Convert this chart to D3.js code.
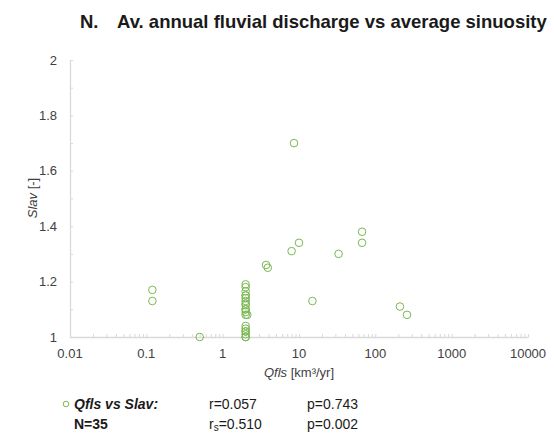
<!DOCTYPE html>
<html>
<head>
<meta charset="utf-8">
<script src="https://cdn.jsdelivr.net/npm/d3@7"></script>
<style>
  html, body { margin: 0; padding: 0; background: #fff; }
  svg { display: block; font-family: "Liberation Sans", Arial, sans-serif; }
</style>
</head>
<body>
<svg id="chart" width="554" height="435"></svg>
<script>
// Average annual fluvial discharge (km³/yr) against average sinuosity
const discharge = [8.6, 10, 8, 3.7, 3.9, 33, 67, 67, 15, 210, 260, 0.12, 0.12, 0.5,
  2, 2, 2, 2, 2, 2, 2, 2, 2, 2, 2.1, 2, 2, 2, 2, 2, 2, 2, 2, 2, 2];
const sinuosity = [1.70, 1.34, 1.31, 1.26, 1.25, 1.30, 1.38, 1.34, 1.13, 1.11, 1.08, 1.17, 1.13, 1.00,
  1.19, 1.18, 1.165, 1.15, 1.15, 1.14, 1.13, 1.12, 1.115, 1.10, 1.08, 1.08, 1.09, 1.10,
  1.04, 1.03, 1.02, 1.02, 1.01, 1.00, 1.00];
const xTickValues = [0.01, 0.1, 1, 10, 100, 1000, 10000];
const xTickLabels = ["0.01", "0.1", "1", "10", "100", "1000", "10000"];
const yTickValues = [1, 1.2, 1.4, 1.6, 1.8, 2];
const yTickLabels = ["1", "1.2", "1.4", "1.6", "1.8", "2"];
const stats = { r: "0.057", p1: "0.743", rs: "0.510", p2: "0.002", n: 35 };

const svg = d3.select("#chart");
const green = "#7ab852";
const axisGrey = "#d9d9d9";
const labelGrey = "#404040";

const x = d3.scaleLog().domain([0.01, 10000]).range([70, 528]);
const y = d3.scaleLinear().domain([1, 2]).range([337, 60]);

// Title
svg.append("text").attr("x", 80).attr("y", 28)
  .attr("font-size", 18.5).attr("font-weight", "bold").attr("fill", "#1a1a1a").text("N.");
svg.append("text").attr("x", 117).attr("y", 28)
  .attr("font-size", 18.5).attr("font-weight", "bold").attr("fill", "#1a1a1a")
  .text("Av. annual fluvial discharge vs average sinuosity");

// X axis: log minor ticks drawn inward
const xMinor = [];
for (let e = -2; e < 4; e++) for (let m = 1; m <= 9; m++) xMinor.push(m * Math.pow(10, e));
xMinor.push(10000);
const xAxis = d3.axisBottom(x).tickValues(xMinor).tickSize(0).tickFormat("");
const gx = svg.append("g").attr("transform", `translate(0,${y(1)})`).call(xAxis);
gx.select(".domain").attr("stroke", axisGrey).attr("stroke-width", 1.3);
gx.selectAll(".tick line").attr("y2", -3).attr("stroke", axisGrey);

svg.append("g").selectAll("text").data(xTickValues).join("text")
  .attr("x", d => x(d)).attr("y", 358).attr("text-anchor", "middle")
  .attr("font-size", 13).attr("fill", labelGrey)
  .text((d, i) => xTickLabels[i]);

// Y axis: minor ticks every 0.1
const yMinor = d3.range(0, 11).map(i => 1 + i * 0.1);
const yAxis = d3.axisLeft(y).tickValues(yMinor).tickSize(0).tickFormat("");
const gy = svg.append("g").attr("transform", `translate(${x(0.01)},0)`).call(yAxis);
gy.select(".domain").attr("stroke", axisGrey).attr("stroke-width", 1.3);
gy.selectAll(".tick line").attr("x2", 3).attr("stroke", axisGrey);

svg.append("g").selectAll("text").data(yTickValues).join("text")
  .attr("x", 57).attr("y", d => y(d) + 4.5).attr("text-anchor", "end")
  .attr("font-size", 13).attr("fill", labelGrey)
  .text((d, i) => yTickLabels[i]);

// Axis titles
const xt = svg.append("text").attr("x", 299).attr("y", 377).attr("text-anchor", "middle")
  .attr("font-size", 13).attr("fill", labelGrey);
xt.append("tspan").attr("font-style", "italic").text("Qfls");
xt.append("tspan").text(" [km³/yr]");

const yt = svg.append("text").attr("transform", "translate(37,198) rotate(-90)")
  .attr("text-anchor", "middle").attr("font-size", 13).attr("fill", labelGrey);
yt.append("tspan").attr("font-style", "italic").text("Slav");
yt.append("tspan").text(" [-]");

// Points
svg.append("g").selectAll("circle").data(discharge).join("circle")
  .attr("cx", d => x(d)).attr("cy", (d, i) => y(sinuosity[i]))
  .attr("r", 3.8).attr("fill", "none").attr("stroke", green).attr("stroke-width", 1);

// Legend and statistics
svg.append("circle").attr("cx", 66).attr("cy", 404).attr("r", 2.8)
  .attr("fill", "none").attr("stroke", green).attr("stroke-width", 1);
svg.append("text").attr("x", 74).attr("y", 409).attr("font-size", 14)
  .attr("font-weight", "bold").attr("font-style", "italic").attr("fill", "#1a1a1a")
  .text("Qfls vs Slav:");
svg.append("text").attr("x", 74).attr("y", 429).attr("font-size", 14)
  .attr("font-weight", "bold").attr("fill", "#1a1a1a").text(`N=${stats.n}`);
svg.append("text").attr("x", 209).attr("y", 409).attr("font-size", 14)
  .attr("fill", "#1a1a1a").text(`r=${stats.r}`);
const rs = svg.append("text").attr("x", 209).attr("y", 429).attr("font-size", 14).attr("fill", "#1a1a1a");
rs.append("tspan").text("r");
rs.append("tspan").attr("font-size", 10).attr("dy", 2).text("s");
rs.append("tspan").attr("dy", -2).text(`=${stats.rs}`);
svg.append("text").attr("x", 307).attr("y", 409).attr("font-size", 14)
  .attr("fill", "#1a1a1a").text(`p=${stats.p1}`);
svg.append("text").attr("x", 307).attr("y", 429).attr("font-size", 14)
  .attr("fill", "#1a1a1a").text(`p=${stats.p2}`);
</script>
</body>
</html>
